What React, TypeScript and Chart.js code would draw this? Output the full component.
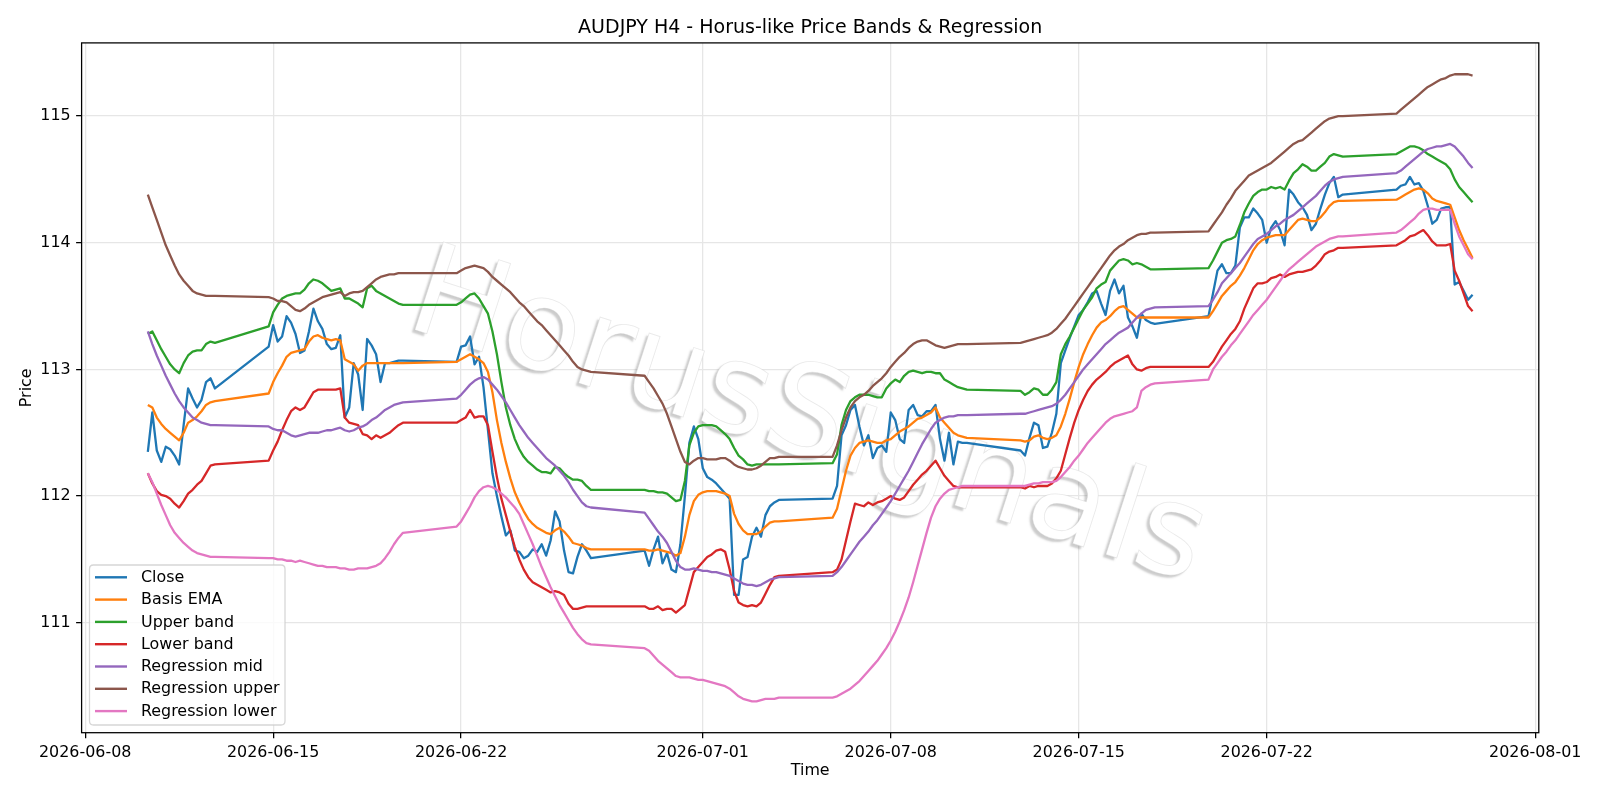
import React, { useEffect, useRef } from "react";
import { Chart, registerables } from "chart.js";

Chart.register(...registerables);

const FONT = '"DejaVu Sans", "Liberation Sans", sans-serif';

const TITLE = "AUDJPY H4 - Horus-like Price Bands & Regression";
const X_LABEL = "Time";
const Y_LABEL = "Price";
const WATERMARK = "HorusSignals";

// H4 trading calendar: a bar every 4 hours, market shut from Friday close to Sunday 20:00 UTC
const FIRST_BAR = "2026-06-10T08:00:00Z";
const LAST_BAR = "2026-07-29T16:00:00Z";
const BAR_HOURS = 4;
const SUNDAY_OPEN_HOUR = 20;

const dateTicks = [
  "2026-06-08",
  "2026-06-15",
  "2026-06-22",
  "2026-07-01",
  "2026-07-08",
  "2026-07-15",
  "2026-07-22",
  "2026-08-01",
];
const priceTicks = [111, 112, 113, 114, 115];

const seriesLabels = [
  "Close",
  "Basis EMA",
  "Upper band",
  "Lower band",
  "Regression mid",
  "Regression upper",
  "Regression lower",
];
const seriesColors = [
  "#1f77b4",
  "#ff7f0e",
  "#2ca02c",
  "#d62728",
  "#9467bd",
  "#8c564b",
  "#e377c2",
];

// one line per trading week (first week starts mid-week, last one ends Wednesday)
const closeValues = [
  112.35, 112.66, 112.36, 112.27, 112.39, 112.37, 112.32, 112.25, 112.56, 112.85, 112.77, 112.70, 112.76, 112.90, 112.93, 112.85,
  113.18, 113.35, 113.22, 113.26, 113.42, 113.37, 113.28, 113.13, 113.15, 113.30, 113.48, 113.38, 113.32, 113.20, 113.16, 113.17, 113.27, 112.62, 112.70, 113.05, 112.96, 112.68, 113.24, 113.19, 113.12, 112.90, 113.05, 113.05, 113.06, 113.07, 113.07,
  113.06, 113.18, 113.19, 113.26, 113.04, 113.10, 112.86, 112.52, 112.18, 112.00, 111.84, 111.69, 111.73, 111.57, 111.56, 111.51, 111.53, 111.58, 111.56, 111.62, 111.53, 111.65, 111.88, 111.80, 111.57, 111.40, 111.39, 111.52, 111.62, 111.57, 111.51,
  111.57, 111.45, 111.58, 111.68, 111.47, 111.55, 111.42, 111.40, 111.62, 112.00, 112.42, 112.55, 112.45, 112.22, 112.15, 112.13, 112.10, 112.06, 112.02, 111.98, 111.22, 111.22, 111.50, 111.52, 111.68, 111.75, 111.68, 111.85, 111.92, 111.95, 111.97,
  111.98, 112.08, 112.48, 112.56, 112.68, 112.72, 112.55, 112.40, 112.48, 112.30, 112.38, 112.40, 112.35, 112.66, 112.60, 112.45, 112.42, 112.68, 112.72, 112.64, 112.63, 112.67, 112.67, 112.72, 112.45, 112.28, 112.50, 112.25, 112.43, 112.42, 112.42,
  112.36, 112.32, 112.46, 112.58, 112.56, 112.38, 112.39, 112.50, 112.65, 113.05, 113.15, 113.25, 113.34, 113.43, 113.47, 113.53, 113.60, 113.62, 113.52, 113.43, 113.62, 113.71, 113.60, 113.66, 113.41, 113.34, 113.25, 113.44, 113.39, 113.37, 113.36,
  113.42, 113.60, 113.78, 113.83, 113.76, 113.76, 113.82, 114.12, 114.20, 114.20, 114.27, 114.23, 114.18, 114.00, 114.12, 114.17, 114.10, 113.98, 114.42, 114.38, 114.32, 114.28, 114.22, 114.10, 114.15, 114.27, 114.38, 114.47, 114.52, 114.36, 114.38,
  114.42, 114.45, 114.46, 114.52, 114.46, 114.47, 114.41, 114.29, 114.15, 114.18, 114.27, 114.28, 114.28, 113.67, 113.69, 113.62, 113.55, 113.59,
];

const basisValues = [
  112.72, 112.70, 112.62, 112.57, 112.53, 112.50, 112.47, 112.44, 112.50, 112.58, 112.60, 112.63, 112.67, 112.72, 112.74, 112.75,
  112.81, 112.90, 112.97, 113.03, 113.10, 113.13, 113.14, 113.15, 113.16, 113.22, 113.26, 113.27, 113.25, 113.24, 113.23, 113.24, 113.23, 113.08, 113.06, 113.04, 112.99, 113.03, 113.05, 113.05, 113.05, 113.05, 113.05, 113.05, 113.05, 113.05, 113.05,
  113.06, 113.08, 113.10, 113.12, 113.10, 113.08, 113.05, 112.98, 112.82, 112.60, 112.42, 112.27, 112.14, 112.03, 111.95, 111.88, 111.82, 111.78, 111.75, 111.73, 111.71, 111.70, 111.73, 111.75, 111.72, 111.68, 111.63, 111.62, 111.61, 111.59, 111.58,
  111.58, 111.57, 111.57, 111.58, 111.57, 111.56, 111.55, 111.53, 111.55, 111.68, 111.85, 111.96, 112.01, 112.03, 112.04, 112.04, 112.04, 112.03, 112.02, 112.00, 111.86, 111.78, 111.73, 111.70, 111.70, 111.70, 111.72, 111.76, 111.79, 111.80, 111.80,
  111.83, 111.90, 112.05, 112.20, 112.32, 112.38, 112.42, 112.43, 112.44, 112.43, 112.42, 112.42, 112.44, 112.45, 112.48, 112.51, 112.53, 112.55, 112.58, 112.61, 112.62, 112.64, 112.66, 112.70, 112.62, 112.58, 112.54, 112.50, 112.48, 112.47, 112.46,
  112.44, 112.43, 112.44, 112.47, 112.48, 112.46, 112.45, 112.46, 112.48, 112.55, 112.65, 112.77, 112.90, 113.02, 113.12, 113.20, 113.27, 113.33, 113.37, 113.39, 113.42, 113.46, 113.49, 113.50, 113.47, 113.44, 113.41, 113.41, 113.41, 113.41, 113.41,
  113.41, 113.46, 113.52, 113.58, 113.62, 113.66, 113.69, 113.74, 113.80, 113.87, 113.94, 113.99, 114.02, 114.04, 114.05, 114.06, 114.06, 114.06, 114.10, 114.14, 114.18, 114.19, 114.18, 114.17, 114.17, 114.20, 114.24, 114.29, 114.32, 114.33, 114.33,
  114.34, 114.36, 114.38, 114.40, 114.42, 114.43, 114.42, 114.39, 114.35, 114.33, 114.32, 114.31, 114.30, 114.20, 114.10, 114.02, 113.95, 113.88,
];

const upperValues = [
  113.28, 113.30, 113.23, 113.16, 113.10, 113.04, 113.00, 112.97, 113.05, 113.11, 113.14, 113.15, 113.15, 113.20, 113.22, 113.21,
  113.34, 113.45, 113.51, 113.56, 113.58, 113.59, 113.60, 113.60, 113.63, 113.68, 113.71, 113.70, 113.68, 113.65, 113.62, 113.63, 113.64, 113.56, 113.56, 113.54, 113.52, 113.49, 113.64, 113.66, 113.62, 113.60, 113.58, 113.56, 113.54, 113.52, 113.51,
  113.51, 113.53, 113.56, 113.59, 113.60, 113.56, 113.50, 113.44, 113.30, 113.12, 112.90, 112.70, 112.56, 112.45, 112.37, 112.31, 112.27, 112.24, 112.21, 112.19, 112.19, 112.18, 112.23, 112.22, 112.18, 112.15, 112.13, 112.13, 112.12, 112.08, 112.05,
  112.05, 112.04, 112.04, 112.03, 112.03, 112.02, 111.99, 111.96, 111.97, 112.12, 112.40, 112.50, 112.55, 112.56, 112.56, 112.56, 112.55, 112.52, 112.49, 112.45, 112.38, 112.32, 112.29, 112.25, 112.24, 112.25, 112.25, 112.25, 112.25, 112.25, 112.25,
  112.26, 112.33, 112.56, 112.68, 112.75, 112.78, 112.80, 112.80, 112.80, 112.79, 112.78, 112.78, 112.85, 112.89, 112.92, 112.90, 112.95, 112.98, 112.99, 112.98, 112.97, 112.98, 112.98, 112.97, 112.97, 112.92, 112.90, 112.88, 112.86, 112.85, 112.84,
  112.83, 112.80, 112.82, 112.85, 112.84, 112.80, 112.80, 112.84, 112.90, 113.12, 113.20, 113.26, 113.33, 113.40, 113.47, 113.52, 113.57, 113.64, 113.67, 113.69, 113.78, 113.82, 113.86, 113.87, 113.86, 113.83, 113.84, 113.83, 113.81, 113.79, 113.79,
  113.80, 113.86, 113.93, 114.00, 114.02, 114.03, 114.05, 114.14, 114.24, 114.31, 114.37, 114.40, 114.42, 114.42, 114.44, 114.43, 114.44, 114.42, 114.49, 114.55, 114.58, 114.62, 114.60, 114.57, 114.57, 114.60, 114.63, 114.68, 114.70, 114.69, 114.68,
  114.70, 114.72, 114.74, 114.76, 114.76, 114.75, 114.73, 114.70, 114.68, 114.66, 114.64, 114.62, 114.58, 114.50, 114.44, 114.40, 114.36, 114.32,
];

const lowerValues = [
  112.18, 112.10, 112.04, 112.01, 112.00, 111.98, 111.94, 111.91, 111.96, 112.02, 112.05, 112.09, 112.12, 112.18, 112.24, 112.25,
  112.28, 112.36, 112.43, 112.52, 112.60, 112.67, 112.70, 112.68, 112.70, 112.76, 112.82, 112.84, 112.84, 112.84, 112.84, 112.84, 112.85, 112.62, 112.58, 112.57, 112.56, 112.49, 112.48, 112.45, 112.48, 112.46, 112.48, 112.50, 112.53, 112.56, 112.58,
  112.58, 112.60, 112.62, 112.68, 112.62, 112.63, 112.63, 112.56, 112.35, 112.15, 111.98, 111.85, 111.72, 111.60, 111.50, 111.42, 111.36, 111.32, 111.30, 111.28, 111.26, 111.24, 111.25, 111.24, 111.22, 111.15, 111.11, 111.11, 111.12, 111.13, 111.13,
  111.13, 111.11, 111.11, 111.13, 111.10, 111.11, 111.11, 111.08, 111.11, 111.14, 111.27, 111.40, 111.44, 111.48, 111.52, 111.54, 111.57, 111.58, 111.56, 111.42, 111.25, 111.16, 111.14, 111.13, 111.14, 111.13, 111.16, 111.23, 111.30, 111.36, 111.37,
  111.40, 111.42, 111.50, 111.65, 111.80, 111.94, 111.93, 111.92, 111.95, 111.93, 111.95, 111.96, 111.98, 112.00, 111.98, 111.97, 111.99, 112.04, 112.09, 112.13, 112.17, 112.20, 112.24, 112.28, 112.22, 112.16, 112.12, 112.08, 112.07, 112.07, 112.07,
  112.07, 112.06, 112.08, 112.07, 112.08, 112.08, 112.08, 112.10, 112.14, 112.20, 112.33, 112.46, 112.58, 112.68, 112.76, 112.83, 112.88, 112.92, 112.95, 112.98, 113.02, 113.05, 113.07, 113.09, 113.11, 113.04, 113.00, 112.99, 113.01, 113.02, 113.02,
  113.02, 113.06, 113.12, 113.18, 113.23, 113.28, 113.32, 113.38, 113.48, 113.56, 113.64, 113.68, 113.68, 113.69, 113.72, 113.73, 113.75, 113.73, 113.75, 113.76, 113.77, 113.77, 113.78, 113.79, 113.82, 113.86, 113.91, 113.93, 113.94, 113.96, 113.96,
  113.98, 114.00, 114.02, 114.05, 114.06, 114.08, 114.10, 114.06, 114.01, 113.98, 113.98, 113.98, 113.99, 113.78, 113.70, 113.60, 113.50, 113.46,
];

const regMidValues = [
  113.30, 113.20, 113.11, 113.03, 112.95, 112.88, 112.81, 112.75, 112.70, 112.66, 112.62, 112.60, 112.58, 112.57, 112.56, 112.56,
  112.55, 112.53, 112.52, 112.52, 112.50, 112.48, 112.47, 112.48, 112.49, 112.50, 112.50, 112.50, 112.51, 112.52, 112.52, 112.53, 112.54, 112.52, 112.51, 112.52, 112.54, 112.55, 112.57, 112.60, 112.62, 112.65, 112.68, 112.70, 112.72, 112.73, 112.74,
  112.77, 112.80, 112.84, 112.88, 112.91, 112.93, 112.94, 112.92, 112.88, 112.84, 112.79, 112.74, 112.68, 112.62, 112.56, 112.51, 112.46, 112.42, 112.38, 112.34, 112.30, 112.27, 112.24, 112.20, 112.16, 112.11, 112.05, 112.00, 111.95, 111.92, 111.91,
  111.87, 111.82, 111.77, 111.72, 111.68, 111.63, 111.56, 111.49, 111.44, 111.42, 111.42, 111.43, 111.42, 111.41, 111.41, 111.40, 111.40, 111.39, 111.38, 111.37, 111.35, 111.33, 111.31, 111.30, 111.30, 111.29, 111.30, 111.32, 111.34, 111.35, 111.36,
  111.37, 111.40, 111.44, 111.49, 111.54, 111.59, 111.64, 111.68, 111.72, 111.77, 111.81, 111.86, 111.91, 111.96, 112.02, 112.08, 112.14, 112.20, 112.27, 112.34, 112.41, 112.47, 112.53, 112.58, 112.60, 112.62, 112.63, 112.63, 112.64, 112.64, 112.64,
  112.65, 112.65, 112.66, 112.67, 112.68, 112.69, 112.70, 112.71, 112.73, 112.76, 112.80, 112.85, 112.90, 112.95, 113.00, 113.04, 113.08, 113.12, 113.16, 113.20, 113.23, 113.26, 113.29, 113.31, 113.33, 113.37, 113.41, 113.44, 113.47, 113.48, 113.49,
  113.50, 113.55, 113.61, 113.68, 113.72, 113.76, 113.80, 113.84, 113.89, 113.94, 113.99, 114.03, 114.05, 114.07, 114.10, 114.13, 114.15, 114.18, 114.20, 114.22, 114.25, 114.28, 114.31, 114.34, 114.37, 114.41, 114.45, 114.48, 114.50, 114.51, 114.52,
  114.55, 114.57, 114.60, 114.63, 114.66, 114.69, 114.72, 114.74, 114.75, 114.76, 114.76, 114.77, 114.78, 114.76, 114.72, 114.68, 114.63, 114.59,
];

const regUpperValues = [
  114.38, 114.28, 114.18, 114.08, 113.98, 113.90, 113.82, 113.75, 113.70, 113.66, 113.62, 113.60, 113.59, 113.58, 113.58, 113.58,
  113.57, 113.56, 113.54, 113.54, 113.53, 113.50, 113.47, 113.46, 113.48, 113.51, 113.53, 113.55, 113.57, 113.58, 113.59, 113.60, 113.61, 113.58, 113.60, 113.61, 113.61, 113.62, 113.65, 113.68, 113.71, 113.73, 113.74, 113.75, 113.75, 113.76, 113.76,
  113.76, 113.78, 113.80, 113.81, 113.82, 113.81, 113.80, 113.77, 113.73, 113.70, 113.67, 113.64, 113.61, 113.57, 113.53, 113.50, 113.46, 113.42, 113.38, 113.35, 113.31, 113.27, 113.23, 113.19, 113.15, 113.11, 113.06, 113.02, 113.00, 112.99, 112.98,
  112.95, 112.90, 112.85, 112.79, 112.73, 112.65, 112.55, 112.45, 112.35, 112.27, 112.25, 112.28, 112.30, 112.30, 112.29, 112.29, 112.29, 112.30, 112.30, 112.28, 112.25, 112.23, 112.22, 112.21, 112.21, 112.22, 112.24, 112.27, 112.30, 112.30, 112.31,
  112.31, 112.40, 112.52, 112.62, 112.70, 112.75, 112.78, 112.80, 112.83, 112.87, 112.90, 112.93, 112.97, 113.02, 113.06, 113.10, 113.13, 113.17, 113.20, 113.22, 113.23, 113.23, 113.21, 113.19, 113.18, 113.17, 113.18, 113.19, 113.20, 113.20, 113.20,
  113.21, 113.22, 113.23, 113.24, 113.25, 113.26, 113.27, 113.29, 113.32, 113.36, 113.40, 113.45, 113.50, 113.55, 113.60, 113.65, 113.70, 113.75, 113.80, 113.85, 113.90, 113.94, 113.97, 113.99, 114.02, 114.04, 114.06, 114.07, 114.07, 114.08, 114.08,
  114.09, 114.14, 114.19, 114.24, 114.30, 114.35, 114.41, 114.45, 114.49, 114.53, 114.55, 114.57, 114.59, 114.61, 114.63, 114.66, 114.69, 114.72, 114.75, 114.78, 114.80, 114.81, 114.84, 114.87, 114.90, 114.93, 114.96, 114.98, 114.99, 115.00, 115.00,
  115.02, 115.05, 115.08, 115.11, 115.14, 115.17, 115.20, 115.23, 115.25, 115.27, 115.29, 115.30, 115.32, 115.33, 115.33, 115.33, 115.33, 115.32,
];

const regLowerValues = [
  112.18, 112.11, 112.02, 111.93, 111.85, 111.77, 111.71, 111.67, 111.63, 111.60, 111.57, 111.55, 111.54, 111.53, 111.52, 111.52,
  111.51, 111.51, 111.50, 111.50, 111.49, 111.49, 111.48, 111.49, 111.48, 111.47, 111.46, 111.45, 111.45, 111.44, 111.44, 111.44, 111.43, 111.43, 111.42, 111.42, 111.43, 111.43, 111.43, 111.44, 111.45, 111.47, 111.51, 111.56, 111.62, 111.67, 111.71,
  111.76, 111.80, 111.86, 111.92, 111.99, 112.04, 112.07, 112.08, 112.07, 112.05, 112.02, 111.99, 111.95, 111.91, 111.86, 111.78, 111.70, 111.62, 111.53, 111.44, 111.36, 111.28, 111.21, 111.14, 111.08, 111.02, 110.96, 110.91, 110.87, 110.84, 110.83,
  110.80, 110.78, 110.74, 110.70, 110.67, 110.64, 110.61, 110.58, 110.57, 110.57, 110.57, 110.56, 110.55, 110.55, 110.54, 110.53, 110.52, 110.51, 110.50, 110.48, 110.45, 110.42, 110.40, 110.39, 110.38, 110.38, 110.39, 110.40, 110.40, 110.40, 110.41,
  110.41, 110.42, 110.44, 110.46, 110.48, 110.51, 110.54, 110.58, 110.62, 110.66, 110.70, 110.75, 110.80, 110.86, 110.93, 111.01, 111.10, 111.20, 111.32, 111.45, 111.58, 111.71, 111.83, 111.92, 111.98, 112.02, 112.05, 112.06, 112.07, 112.08, 112.08,
  112.08, 112.08, 112.09, 112.10, 112.10, 112.11, 112.11, 112.11, 112.12, 112.15, 112.19, 112.23, 112.28, 112.32, 112.37, 112.42, 112.46, 112.50, 112.54, 112.58, 112.61, 112.63, 112.64, 112.65, 112.66, 112.67, 112.70, 112.83, 112.86, 112.88, 112.89,
  112.92, 113.00, 113.05, 113.10, 113.14, 113.19, 113.23, 113.28, 113.33, 113.38, 113.43, 113.47, 113.51, 113.55, 113.60, 113.65, 113.70, 113.75, 113.79, 113.82, 113.85, 113.88, 113.91, 113.94, 113.97, 113.99, 114.01, 114.03, 114.04, 114.05, 114.05,
  114.08, 114.10, 114.13, 114.16, 114.19, 114.23, 114.26, 114.27, 114.27, 114.26, 114.26, 114.26, 114.26, 114.15, 114.05, 113.98, 113.91, 113.87,
];

const seriesValues = [
  closeValues,
  basisValues,
  upperValues,
  lowerValues,
  regMidValues,
  regUpperValues,
  regLowerValues,
];

function barTimes(): number[] {
  const out: number[] = [];
  const end = Date.parse(LAST_BAR);
  for (let t = Date.parse(FIRST_BAR); t <= end; t += BAR_HOURS * 3600000) {
    const d = new Date(t);
    const dow = d.getUTCDay();
    if (dow === 6) continue;
    if (dow === 0 && d.getUTCHours() < SUNDAY_OPEN_HOUR) continue;
    out.push(t);
  }
  return out;
}

function roundedRect(ctx: CanvasRenderingContext2D, x: number, y: number, w: number, h: number, r: number) {
  ctx.beginPath();
  ctx.moveTo(x + r, y);
  ctx.lineTo(x + w - r, y);
  ctx.quadraticCurveTo(x + w, y, x + w, y + r);
  ctx.lineTo(x + w, y + h - r);
  ctx.quadraticCurveTo(x + w, y + h, x + w - r, y + h);
  ctx.lineTo(x + r, y + h);
  ctx.quadraticCurveTo(x, y + h, x, y + h - r);
  ctx.lineTo(x, y + r);
  ctx.quadraticCurveTo(x, y, x + r, y);
  ctx.closePath();
}

// embossed watermark: white glyphs whose soft grey shadow peeks out on one side
function drawWatermark(ctx: CanvasRenderingContext2D) {
  ctx.save();
  ctx.translate(797, 454);
  ctx.rotate((18 * Math.PI) / 180);
  ctx.font = `127px ${FONT}`;
  ctx.textAlign = "center";
  ctx.textBaseline = "alphabetic";
  ctx.shadowColor = "rgba(120,120,120,0.38)";
  ctx.shadowBlur = 2;
  ctx.shadowOffsetX = -3;
  ctx.shadowOffsetY = 2.5;
  ctx.fillStyle = "#ffffff";
  ctx.fillText(WATERMARK, 0, 0);
  ctx.shadowColor = "transparent";
  ctx.strokeStyle = "rgba(200,200,200,0.4)";
  ctx.lineWidth = 0.8;
  ctx.strokeText(WATERMARK, 0, 0);
  ctx.restore();
}

function drawLegend(ctx: CanvasRenderingContext2D) {
  ctx.save();
  roundedRect(ctx, 89.5, 565, 195.5, 160, 4);
  ctx.fillStyle = "rgba(255,255,255,0.8)";
  ctx.fill();
  ctx.strokeStyle = "rgba(204,204,204,0.8)";
  ctx.lineWidth = 1.27;
  ctx.stroke();
  ctx.font = `15.9px ${FONT}`;
  ctx.textAlign = "left";
  ctx.textBaseline = "middle";
  seriesLabels.forEach((label, i) => {
    const cy = 577.3 + i * 22.3;
    ctx.strokeStyle = seriesColors[i];
    ctx.lineWidth = 2.4;
    ctx.beginPath();
    ctx.moveTo(95, cy);
    ctx.lineTo(127, cy);
    ctx.stroke();
    ctx.fillStyle = "#000";
    ctx.fillText(label, 141, cy + 0.5);
  });
  ctx.restore();
}

const decorPlugin = {
  id: "decor",
  beforeDraw(chart: any) {
    const ctx = chart.ctx as CanvasRenderingContext2D;
    ctx.save();
    ctx.fillStyle = "#ffffff";
    ctx.fillRect(0, 0, chart.width, chart.height);
    ctx.restore();
  },
  beforeDatasetsDraw(chart: any) {
    drawWatermark(chart.ctx);
  },
  afterDraw(chart: any) {
    const ctx = chart.ctx as CanvasRenderingContext2D;
    const a = chart.chartArea;
    const cx = (a.left + a.right) / 2;
    ctx.save();
    ctx.strokeStyle = "#000";
    ctx.lineWidth = 1.27;
    ctx.strokeRect(a.left, a.top, a.right - a.left, a.bottom - a.top);

    ctx.fillStyle = "#000";
    ctx.textAlign = "center";
    ctx.font = `19px ${FONT}`;
    ctx.textBaseline = "alphabetic";
    ctx.fillText(TITLE, cx, 33.4);

    ctx.font = `15.9px ${FONT}`;
    ctx.textBaseline = "middle";
    ctx.fillText(X_LABEL, cx, 771);

    ctx.save();
    ctx.translate(26.5, (a.top + a.bottom) / 2);
    ctx.rotate(-Math.PI / 2);
    ctx.fillText(Y_LABEL, 0, 0);
    ctx.restore();
    ctx.restore();

    drawLegend(ctx);
  },
};

export default function App() {
  const canvasRef = useRef<HTMLCanvasElement | null>(null);

  useEffect(() => {
    const canvas = canvasRef.current;
    if (!canvas) return;

    const times = barTimes();
    const span = times[times.length - 1] - times[0];
    const xMin = times[0] - 0.05 * span;
    const xMax = times[times.length - 1] + 0.05 * span;

    const all = seriesValues.flat();
    const lo = Math.min(...all);
    const hi = Math.max(...all);
    const yMin = lo - 0.05 * (hi - lo);
    const yMax = hi + 0.05 * (hi - lo);

    const tickTimes = dateTicks.map((d) => Date.parse(d + "T00:00:00Z"));

    const datasets = seriesValues.map((vals, i) => ({
      label: seriesLabels[i],
      data: times.map((t, k) => ({ x: t, y: vals[k] })),
      borderColor: seriesColors[i],
      backgroundColor: seriesColors[i],
      borderWidth: 2.3,
      pointRadius: 0,
      pointHoverRadius: 0,
      tension: 0,
      fill: false,
      borderJoinStyle: "round" as const,
      order: seriesValues.length - i,
    }));

    const tickFont = { family: FONT, size: 15.9 };
    const gridColor = "#e6e6e6";

    const chart = new Chart(canvas, {
      type: "line",
      data: { datasets },
      options: {
        responsive: false,
        animation: false,
        devicePixelRatio: 1,
        layout: { padding: { top: 42.9, right: 61.2, bottom: 0, left: 0 } },
        plugins: {
          legend: { display: false },
          title: { display: false },
          tooltip: { enabled: false },
        },
        events: [],
        scales: {
          x: {
            type: "linear",
            min: xMin,
            max: xMax,
            afterBuildTicks: (scale: any) => {
              scale.ticks = tickTimes.map((v) => ({ value: v }));
            },
            afterFit: (scale: any) => {
              scale.height = 67.3;
              scale.paddingLeft = 0;
              scale.paddingRight = 0;
            },
            ticks: {
              autoSkip: false,
              maxRotation: 0,
              minRotation: 0,
              padding: 5.5,
              color: "#000",
              font: tickFont,
              callback: (v: any) => new Date(Number(v)).toISOString().slice(0, 10),
            },
            grid: {
              color: gridColor,
              lineWidth: 1.27,
              drawTicks: true,
              tickLength: 5.5,
              tickColor: "#000",
              tickWidth: 1.27,
            },
            border: { display: false },
          },
          y: {
            type: "linear",
            min: yMin,
            max: yMax,
            afterBuildTicks: (scale: any) => {
              scale.ticks = priceTicks.map((v) => ({ value: v }));
            },
            afterFit: (scale: any) => {
              scale.width = 81.6;
              scale.paddingTop = 0;
              scale.paddingBottom = 0;
            },
            ticks: {
              autoSkip: false,
              padding: 5.5,
              color: "#000",
              font: tickFont,
              callback: (v: any) => String(v),
            },
            grid: {
              color: gridColor,
              lineWidth: 1.27,
              drawTicks: true,
              tickLength: 5.5,
              tickColor: "#000",
              tickWidth: 1.27,
            },
            border: { display: false },
          },
        },
      } as any,
      plugins: [decorPlugin],
    });

    return () => chart.destroy();
  }, []);

  return (
    <div style={{ position: "absolute", left: 0, top: 0, width: 1600, height: 800, background: "#fff" }}>
      <canvas ref={canvasRef} width={1600} height={800} style={{ display: "block", width: 1600, height: 800 }} />
    </div>
  );
}
